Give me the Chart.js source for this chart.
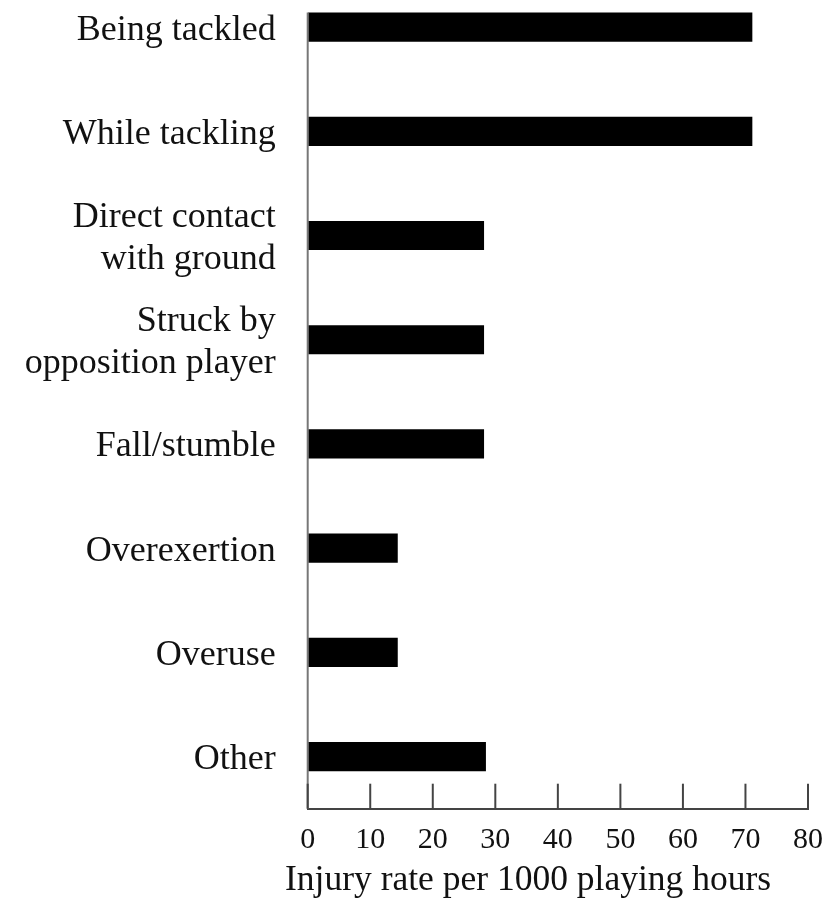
<!DOCTYPE html>
<html>
<head>
<meta charset="utf-8">
<script src="https://cdn.jsdelivr.net/npm/chart.js@4.4.1/dist/chart.umd.min.js"></script>
<style>
  html, body { margin: 0; padding: 0; background: #fff; overflow: hidden; }
  #wrap { position: absolute; left: 0; top: -25px; width: 824px; height: 928px; }
  #xTitle {
    position: absolute; left: 285px; top: 857px; white-space: nowrap;
    font-family: 'Liberation Serif', 'Times New Roman', serif;
    font-size: 35.5px; line-height: 42px; color: #111;
  }
</style>
</head>
<body>
<div id="wrap"><canvas id="injuryChart"></canvas></div>
<div id="xTitle"></div>
<script>
// Số liệu
const categories = [
    'Being tackled',
    'While tackling',
    ['Direct contact', 'with ground'],
    ['Struck by', 'opposition player'],
    'Fall/stumble',
    'Overexertion',
    'Overuse',
    'Other'
];
const injuryRates = [71.1, 71.1, 28.2, 28.2, 28.2, 14.4, 14.4, 28.5];
const xTickValues = [0, 10, 20, 30, 40, 50, 60, 70, 80];
const xTitle = 'Injury rate per 1000 playing hours';

const serif = "'Liberation Serif', 'Times New Roman', serif";

// Vẽ trục dọc từ đỉnh thanh đầu tiên và các vạch chia hướng vào trong
const axisMarks = {
    id: 'axisMarks',
    afterDatasetsDraw(chart) {
        const { ctx, chartArea, scales } = chart;
        const first = chart.getDatasetMeta(0).data[0];
        const top = first.y - first.height / 2;
        ctx.save();
        ctx.lineWidth = 2;
        ctx.strokeStyle = '#777';
        ctx.beginPath();
        ctx.moveTo(chartArea.left, top);
        ctx.lineTo(chartArea.left, chartArea.bottom);
        ctx.stroke();
        ctx.strokeStyle = '#444';
        scales.x.ticks.forEach(t => {
            const x = scales.x.getPixelForValue(t.value);
            ctx.beginPath();
            ctx.moveTo(x, chartArea.bottom);
            ctx.lineTo(x, chartArea.bottom - 25);
            ctx.stroke();
        });
        ctx.restore();
    }
};

function renderChart() {
    document.getElementById('xTitle').textContent = xTitle;
    const ctx = document.getElementById('injuryChart').getContext('2d');
    new Chart(ctx, {
        type: 'bar',
        data: {
            labels: categories,
            datasets: [{
                data: injuryRates,
                backgroundColor: '#000',
                borderWidth: 0,
                categoryPercentage: 1,
                barPercentage: 0.28
            }]
        },
        options: {
            indexAxis: 'y',
            responsive: true,
            maintainAspectRatio: false,
            animation: false,
            layout: { padding: { top: 0, right: 16, left: 0, bottom: 0 } },
            plugins: { legend: { display: false }, tooltip: { enabled: false } },
            scales: {
                x: {
                    min: 0,
                    max: 80,
                    afterBuildTicks: s => { s.ticks = xTickValues.map(v => ({ value: v })); },
                    afterFit: s => {
                        s.height = 94.3;
                        s.paddingLeft = 0;
                        s.paddingRight = 0;
                    },
                    grid: { display: true, drawOnChartArea: false, drawTicks: false },
                    border: { display: true, color: '#444', width: 2 },
                    ticks: {
                        color: '#111',
                        padding: 13,
                        maxRotation: 0,
                        font: { family: serif, size: 30 }
                    }
                },
                y: {
                    afterFit: s => {
                        s.width = 307.7;
                        s.paddingTop = 0;
                        s.paddingBottom = 0;
                    },
                    grid: { display: false, drawTicks: false },
                    border: { display: false },
                    ticks: {
                        color: '#111',
                        padding: 32,
                        labelOffset: 3,
                        font: { family: serif, size: 36, lineHeight: 1.15 }
                    }
                }
            }
        },
        plugins: [axisMarks]
    });
}

window.onload = function () {
    renderChart();
};
</script>
</body>
</html>
